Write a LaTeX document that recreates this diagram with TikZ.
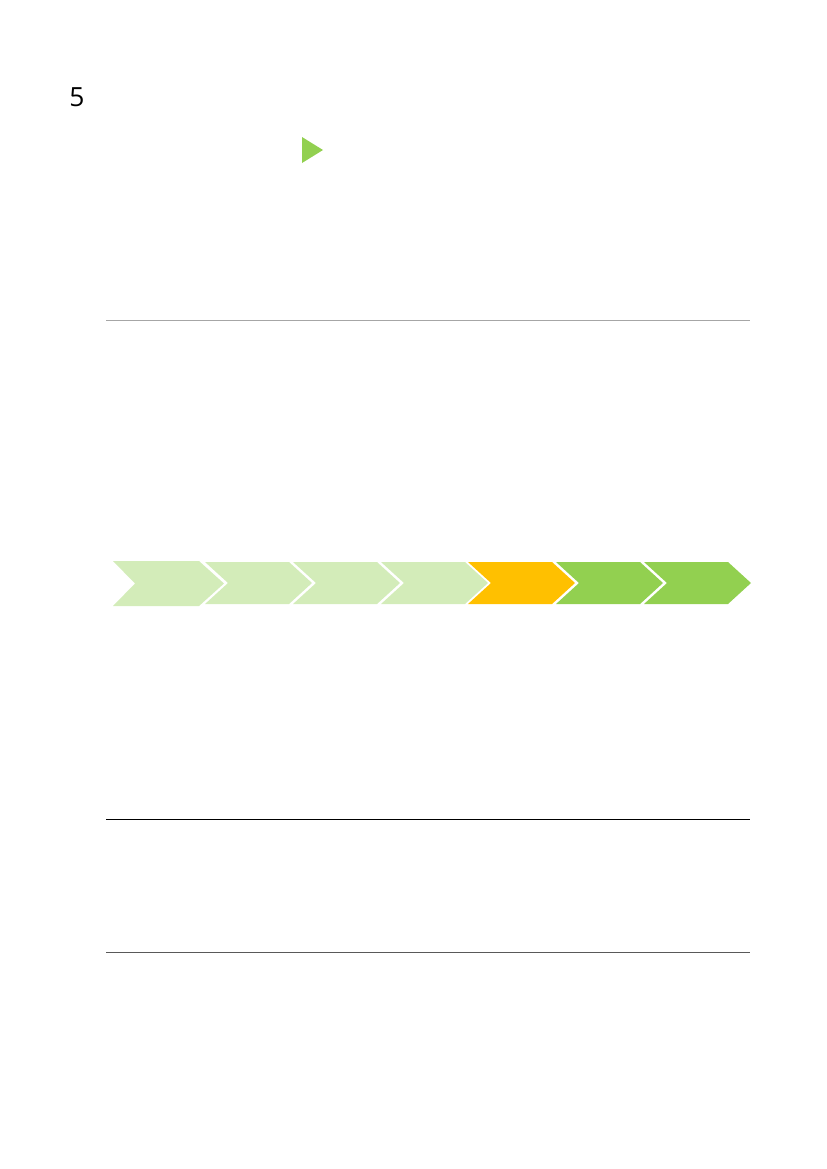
\documentclass[tikz,border=0pt]{standalone}
\usepackage{fontspec}
\setmainfont{Open Sans}
\usetikzlibrary{positioning}
\definecolor{leafgreen}{HTML}{92D050}
\definecolor{amber}{HTML}{FFC000}
\definecolor{rulegray}{HTML}{A6A6A6}
\definecolor{ruledark}{HTML}{595959}

\begin{document}
\begin{tikzpicture}[
    x=0.7198pt, y=-0.7198pt,
    rule/.style={line width=0.8pt},
    marker/.style={fill=leafgreen}
]
\useasboundingbox (0,0) rectangle (827,1169);

% page number and pointer
\node[font=\fontsize{19}{22}\selectfont, anchor=base west, inner sep=0] (num) at (69,106) {5};
\fill[marker] (302,137) -- (323,150) -- (302,163) -- cycle;

% rules
\draw[rule, rulegray] (106,320.5) -- (750,320.5);
\draw[rule, black] (106,819.5) -- (750,819.5);
\draw[rule, ruledark] (106,952.5) -- (750,952.5);

% chevrons
\fill[leafgreen!40] (113,561) -- (199,561) -- (224,583.5) -- (199,606) -- (113,606) -- (135,583.5) -- cycle;
\foreach \x/\c in {205/leafgreen!40, 293/leafgreen!40, 381/leafgreen!40, 468/amber, 556/leafgreen, 644/leafgreen}
    \fill[\c] (\x,562) -- ++(84,0) -- ++(23,21) -- ++(-23,21) -- ++(-84,0) -- ++(23,-21) -- cycle;
\end{tikzpicture}
\end{document}
